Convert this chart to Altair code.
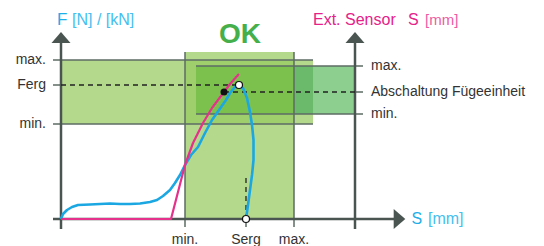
import altair as alt
import pandas as pd

# ---- data (diagram units: S along the travel axis, F along the force axis) ----
blue_s = [0, 2, 6, 11, 17, 29, 39, 49, 59, 69, 79, 89, 96, 102, 109, 114, 119, 124, 130, 137,
          144, 151, 158, 165, 169, 174, 178, 182, 186, 189, 191, 192.5, 192.5, 191, 189, 187, 185]
blue_f = [0, 5, 9, 12, 14, 14.5, 15, 15.5, 15, 15, 15.5, 17, 19, 23, 29, 36, 44, 54, 64, 72,
          86, 99, 109, 119, 126, 132, 134, 131, 121, 107, 94, 79, 59, 44, 29, 14, 0]
pink_s = [0, 110, 117, 124, 132, 142, 151, 157, 163, 169, 178]
pink_f = [0, 0, 27, 54, 76, 96, 111, 119, 127, 135, 145]

s_ticks = ["min.", "Serg", "max."]
s_vals = [124, 185, 233]
f_ticks = ["max.", "Ferg", "min."]
f_vals = [159, 134, 95]
sens_ticks = ["max.", "Abschaltung Fügeeinheit", "min."]
sens_vals = [153, 127, 105]

S_MIN, S_ERG, S_MAX = s_vals[0], s_vals[1], s_vals[2]
F_MAX, F_ERG, F_MIN = f_vals
SEN_MAX, SEN_OFF, SEN_MIN = sens_vals
S_AXIS2 = 294          # position of the sensor axis
F_BAND_END = 252       # force window right end
S_BAND_TOP = 167       # travel window top
SEN_LEFT = 135         # sensor window left end
AX_TOP = 176
F_ERG_POINT = (178, 134)
SEN_POINT = (163, 127)

XS = alt.Scale(domain=[-53, 475], nice=False, zero=False)
YS = alt.Scale(domain=[-27, 211], nice=False, zero=False)


def X(f="s"):
    return alt.X(f + ":Q", scale=XS, axis=None)


def Y(f="f"):
    return alt.Y(f + ":Q", scale=YS, axis=None)


LIGHT = "#b4d98d"
OVER = "#9fce6c"

rects = pd.DataFrame([
    dict(s=0, s2=F_BAND_END, f=F_MIN, f2=F_MAX, c=LIGHT),
    dict(s=S_MIN, s2=S_MAX, f=0, f2=S_BAND_TOP, c=LIGHT),
    dict(s=S_MIN, s2=S_MAX, f=F_MIN, f2=F_MAX, c=OVER),
    dict(s=SEN_LEFT, s2=S_MAX, f=SEN_MIN, f2=SEN_MAX, c="#7cc04e"),
    dict(s=S_MAX, s2=F_BAND_END, f=SEN_MIN, f2=SEN_MAX, c="#6bb96a"),
    dict(s=F_BAND_END, s2=S_AXIS2, f=SEN_MIN, f2=SEN_MAX, c="#8dcf8e"),
])
rect_layer = alt.Chart(rects).mark_rect().encode(
    x=X("s"), x2="s2:Q", y=Y("f"), y2="f2:Q", color=alt.Color("c:N", scale=None))

EDGE = "#5d6b64"
AXC = "#4a5552"
rules = pd.DataFrame([
    dict(s=-8, s2=F_BAND_END, f=F_MAX, f2=F_MAX, c=EDGE, w=1.5),
    dict(s=-8, s2=F_BAND_END, f=F_MIN, f2=F_MIN, c=EDGE, w=1.5),
    dict(s=-8, s2=0, f=F_ERG, f2=F_ERG, c=EDGE, w=1.5),
    dict(s=S_MIN, s2=S_MIN, f=-8, f2=S_BAND_TOP, c=EDGE, w=1.5),
    dict(s=S_MAX, s2=S_MAX, f=-8, f2=S_BAND_TOP, c=EDGE, w=1.5),
    dict(s=S_ERG, s2=S_ERG, f=-8, f2=0, c=EDGE, w=1.5),
    dict(s=SEN_LEFT, s2=S_AXIS2 + 8, f=SEN_MAX, f2=SEN_MAX, c=EDGE, w=1.5),
    dict(s=SEN_LEFT, s2=S_AXIS2 + 8, f=SEN_MIN, f2=SEN_MIN, c=EDGE, w=1.5),
    dict(s=S_AXIS2, s2=S_AXIS2 + 8, f=SEN_OFF, f2=SEN_OFF, c=EDGE, w=1.5),
    dict(s=0, s2=0, f=-10, f2=AX_TOP, c=AXC, w=2.5),
    dict(s=S_AXIS2, s2=S_AXIS2, f=-10, f2=AX_TOP, c=AXC, w=2.5),
    dict(s=-8, s2=333, f=0, f2=0, c=AXC, w=2.5),
])
rule_layer = alt.Chart(rules).mark_rule().encode(
    x=X("s"), x2="s2:Q", y=Y("f"), y2="f2:Q",
    color=alt.Color("c:N", scale=None), strokeWidth=alt.StrokeWidth("w:Q", scale=None))

dashes = pd.DataFrame([
    dict(s=0, s2=F_ERG_POINT[0], f=F_ERG, f2=F_ERG),
    dict(s=SEN_POINT[0], s2=S_AXIS2, f=SEN_OFF, f2=SEN_OFF),
    dict(s=S_ERG, s2=S_ERG, f=0, f2=41),
])
dash_layer = alt.Chart(dashes).mark_rule(color="#222222", strokeWidth=1.3, strokeDash=[5, 4]).encode(
    x=X("s"), x2="s2:Q", y=Y("f"), y2="f2:Q")

up = "M-1,0.58L0,-0.58L1,0.58Z"
right = "M-0.58,-1L0.58,0L-0.58,1Z"
arrows_up = pd.DataFrame(dict(s=[0, S_AXIS2], f=[181.5, 181.5]))
arrows_r = pd.DataFrame(dict(s=[338.5], f=[0]))
arrow_up_layer = alt.Chart(arrows_up).mark_point(shape=up, size=361, filled=True, color=AXC, opacity=1).encode(
    x=X("s"), y=Y("f"))
arrow_r_layer = alt.Chart(arrows_r).mark_point(shape=right, size=400, filled=True, color=AXC, opacity=1).encode(
    x=X("s"), y=Y("f"))

blue = pd.DataFrame(dict(s=blue_s, f=blue_f, i=range(len(blue_s))))
pink = pd.DataFrame(dict(s=pink_s, f=pink_f, i=range(len(pink_s))))
blue_layer = alt.Chart(blue).mark_line(color="#1ba8e2", strokeWidth=2.6, strokeJoin="round").encode(
    x=X("s"), y=Y("f"), order="i:Q")
pink_layer = alt.Chart(pink).mark_line(color="#e6318c", strokeWidth=2.2, strokeJoin="round").encode(
    x=X("s"), y=Y("f"), order="i:Q")

white_pts = pd.DataFrame(dict(s=[F_ERG_POINT[0], S_ERG], f=[F_ERG_POINT[1], 0]))
black_pts = pd.DataFrame(dict(s=[SEN_POINT[0]], f=[SEN_POINT[1]]))
white_layer = alt.Chart(white_pts).mark_point(shape="circle", size=49, filled=True, fill="white",
                                              stroke="#111111", strokeWidth=1.2, opacity=1).encode(x=X("s"), y=Y("f"))
black_layer = alt.Chart(black_pts).mark_point(shape="circle", size=49, filled=True, color="#111111",
                                              opacity=1).encode(x=X("s"), y=Y("f"))

FONT = "Liberation Sans"
TXT = "#333333"

left_lbl = pd.DataFrame(dict(s=[-15] * 3, f=f_vals, t=f_ticks))
left_layer = alt.Chart(left_lbl).mark_text(font=FONT, fontSize=14, align="right", baseline="middle", color=TXT).encode(
    x=X("s"), y=Y("f"), text="t:N")

right_lbl = pd.DataFrame(dict(s=[310] * 3, f=sens_vals, t=sens_ticks))
right_layer = alt.Chart(right_lbl).mark_text(font=FONT, fontSize=14, align="left", baseline="middle", color=TXT).encode(
    x=X("s"), y=Y("f"), text="t:N")

bottom_lbl = pd.DataFrame(dict(s=s_vals, f=[-21] * 3, t=s_ticks))
bottom_layer = alt.Chart(bottom_lbl).mark_text(font=FONT, fontSize=14, align="center", baseline="middle", color=TXT).encode(
    x=X("s"), y=Y("f"), text="t:N")

titles = pd.DataFrame([
    dict(s=-4, f=194, t="F", c="#1eaee8", z=17),
    dict(s=11, f=194, t="[N] / [kN]", c="#45bff0", z=16),
    dict(s=252, f=194, t="Ext. Sensor", c="#e6218a", z=16),
    dict(s=347, f=194, t="S", c="#e6218a", z=16),
    dict(s=364, f=194, t="[mm]", c="#ef5aa6", z=15),
])
title_layer = alt.Chart(titles).mark_text(font=FONT, align="left", baseline="alphabetic").encode(
    x=X("s"), y=Y("f"), text="t:N", color=alt.Color("c:N", scale=None), size=alt.Size("z:Q", scale=None))

s_title = pd.DataFrame([
    dict(s=350.5, f=0, t="S", c="#1eaee8", z=16),
    dict(s=367, f=0, t="[mm]", c="#45bff0", z=16),
])
s_title_layer = alt.Chart(s_title).mark_text(font=FONT, align="left", baseline="middle").encode(
    x=X("s"), y=Y("f"), text="t:N", color=alt.Color("c:N", scale=None), size=alt.Size("z:Q", scale=None))

ok = pd.DataFrame(dict(s=[179], f=[176], t=["OK"]))
ok_layer = alt.Chart(ok).mark_text(font=FONT, fontSize=28, fontWeight="bold", align="center",
                                   baseline="alphabetic", color="#45b04b").encode(x=X("s"), y=Y("f"), text="t:N")

chart = alt.layer(
    rect_layer, rule_layer, dash_layer, arrow_up_layer, arrow_r_layer,
    blue_layer, pink_layer, white_layer, black_layer,
    left_layer, right_layer, bottom_layer, title_layer, s_title_layer, ok_layer,
).properties(
    width=528, height=238, padding=0, autosize=alt.AutoSizeParams(type="none")
).configure_view(stroke=None)

chart.save("out.html", embed_options={"renderer": "svg", "actions": False})
